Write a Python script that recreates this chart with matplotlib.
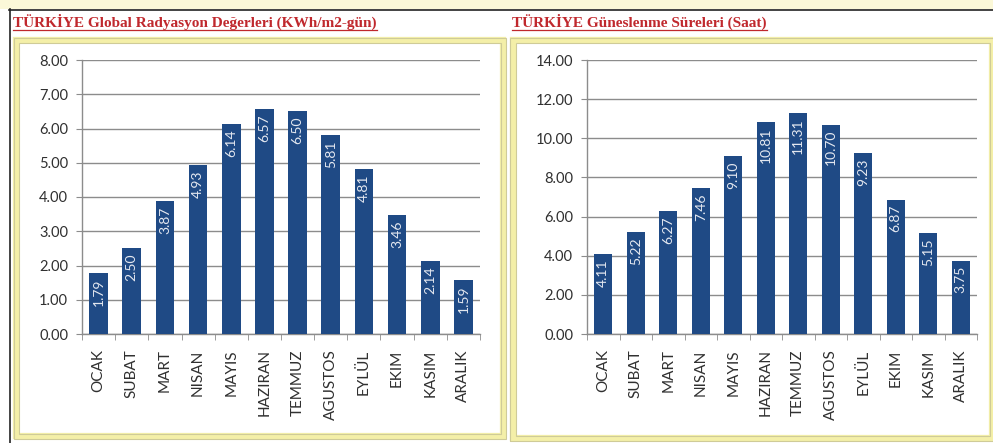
import matplotlib
matplotlib.use("Agg")
import matplotlib.pyplot as plt
from matplotlib.patches import Rectangle
from matplotlib.lines import Line2D
import numpy as np

months = ["OCAK", "SUBAT", "MART", "NISAN", "MAYIS", "HAZIRAN",
          "TEMMUZ", "AGUSTOS", "EYLÜL", "EKIM", "KASIM", "ARALIK"]
radiation = [1.79, 2.50, 3.87, 4.93, 6.14, 6.57, 6.50, 5.81, 4.81, 3.46, 2.14, 1.59]
sunshine = [4.11, 5.22, 6.27, 7.46, 9.10, 10.81, 11.31, 10.70, 9.23, 6.87, 5.15, 3.75]
title_left = "TÜRKİYE Global Radyasyon Değerleri (KWh/m2-gün)"
title_right = "TÜRKİYE Güneslenme Süreleri (Saat)"

BAR = "#1F4A85"
GRID = "#8c8c8c"
TXT = "#303030"
TITLE = "#C0282D"
W, H = 993, 443

plt.rcParams["font.family"] = ["Lato", "DejaVu Sans"]
fig = plt.figure(figsize=(W / 100, H / 100), dpi=100)
fig.patch.set_facecolor("white")


def fx(px):
    return px / W


def fy(py):
    return 1 - py / H


# page background: pale strip on top, thin dark frame lines
fig.patches.append(Rectangle((0, fy(9)), 1, 9 / H, transform=fig.transFigure,
                             facecolor="#FBF8D8", edgecolor="none", zorder=-5))
fig.lines.append(Line2D([fx(9), 1], [fy(9.5), fy(9.5)], transform=fig.transFigure,
                        color="#222222", lw=1.2, zorder=-4))
fig.lines.append(Line2D([fx(9.5), fx(9.5)], [0, fy(9)], transform=fig.transFigure,
                        color="#222222", lw=1.2, zorder=-4))


def panel_frame(x0, y0, x1, y1):
    # double yellow frame around each chart
    fig.patches.append(Rectangle((fx(x0), fy(y1)), fx(x1 - x0), (y1 - y0) / H,
                                 transform=fig.transFigure, facecolor="white",
                                 edgecolor="#F4EFA8", lw=4.5, zorder=-3))
    fig.patches.append(Rectangle((fx(x0 - 2.5), fy(y1 + 2.5)), fx(x1 - x0 + 5), (y1 - y0 + 5) / H,
                                 transform=fig.transFigure, facecolor="none",
                                 edgecolor="#CFCB98", lw=0.8, zorder=-2))
    fig.patches.append(Rectangle((fx(x0 + 2.5), fy(y1 - 2.5)), fx(x1 - x0 - 5), (y1 - y0 - 5) / H,
                                 transform=fig.transFigure, facecolor="none",
                                 edgecolor="#CFCB98", lw=0.8, zorder=-2))


panel_frame(16, 40, 503, 436)
panel_frame(513, 40, 992, 438)


def titled(x, y, s):
    t = fig.text(fx(x), fy(y), s, ha="left", va="baseline", color=TITLE,
                 fontsize=11, fontweight="bold",
                 family=["Liberation Serif", "DejaVu Serif"])
    return t


titles = [titled(13, 27, title_left), titled(512, 27, title_right)]


def draw_chart(rect, values, ymax, step):
    ax = fig.add_axes(rect)
    x = np.arange(len(values))
    ax.bar(x, values, width=0.56, color=BAR, zorder=3)
    ax.set_xlim(-0.5, len(values) - 0.5)
    ax.set_ylim(0, ymax)
    ticks = np.arange(0, ymax + 0.001, step)
    ax.set_yticks(ticks)
    ax.set_yticklabels([f"{t:.2f}" for t in ticks], fontsize=10.5, color=TXT)
    ax.set_xticks(x)
    ax.set_xticklabels(months, rotation=90, fontsize=11, color=TXT)
    ax.set_xticks(np.arange(-0.5, len(values), 1.0), minor=True)
    ax.tick_params(axis="x", which="major", length=0, pad=11)
    ax.tick_params(axis="x", which="minor", length=4, color=GRID, direction="out")
    ax.tick_params(axis="y", length=4, color=GRID, pad=6)
    ax.yaxis.grid(True, color=GRID, lw=1.0, zorder=0)
    ax.set_axisbelow(True)
    for s in ("top", "right"):
        ax.spines[s].set_visible(False)
    for s in ("left", "bottom"):
        ax.spines[s].set_color(GRID)
        ax.spines[s].set_linewidth(1.0)
    ax.set_facecolor("none")
    # value labels inside the top of each bar
    off = ymax * 0.02
    for xi, v in zip(x, values):
        ax.text(xi, v - off, f"{v:.2f}", rotation=90, ha="center", va="top",
                color="#E4E8F0", fontsize=10, zorder=4)
    return ax


draw_chart([fx(82), fy(334), fx(480 - 82), 274 / H], radiation, 8, 1)
draw_chart([fx(587), fy(334), fx(977 - 587), 274 / H], sunshine, 14, 2)

# underline the panel titles
fig.canvas.draw()
r = fig.canvas.get_renderer()
for t in titles:
    bb = t.get_window_extent(renderer=r)
    yb = fy(29.5)
    fig.lines.append(Line2D([bb.x0 / W, bb.x1 / W], [yb, yb], transform=fig.transFigure,
                            color=TITLE, lw=0.9))

fig.savefig("out.png", dpi=100, facecolor=fig.get_facecolor())
